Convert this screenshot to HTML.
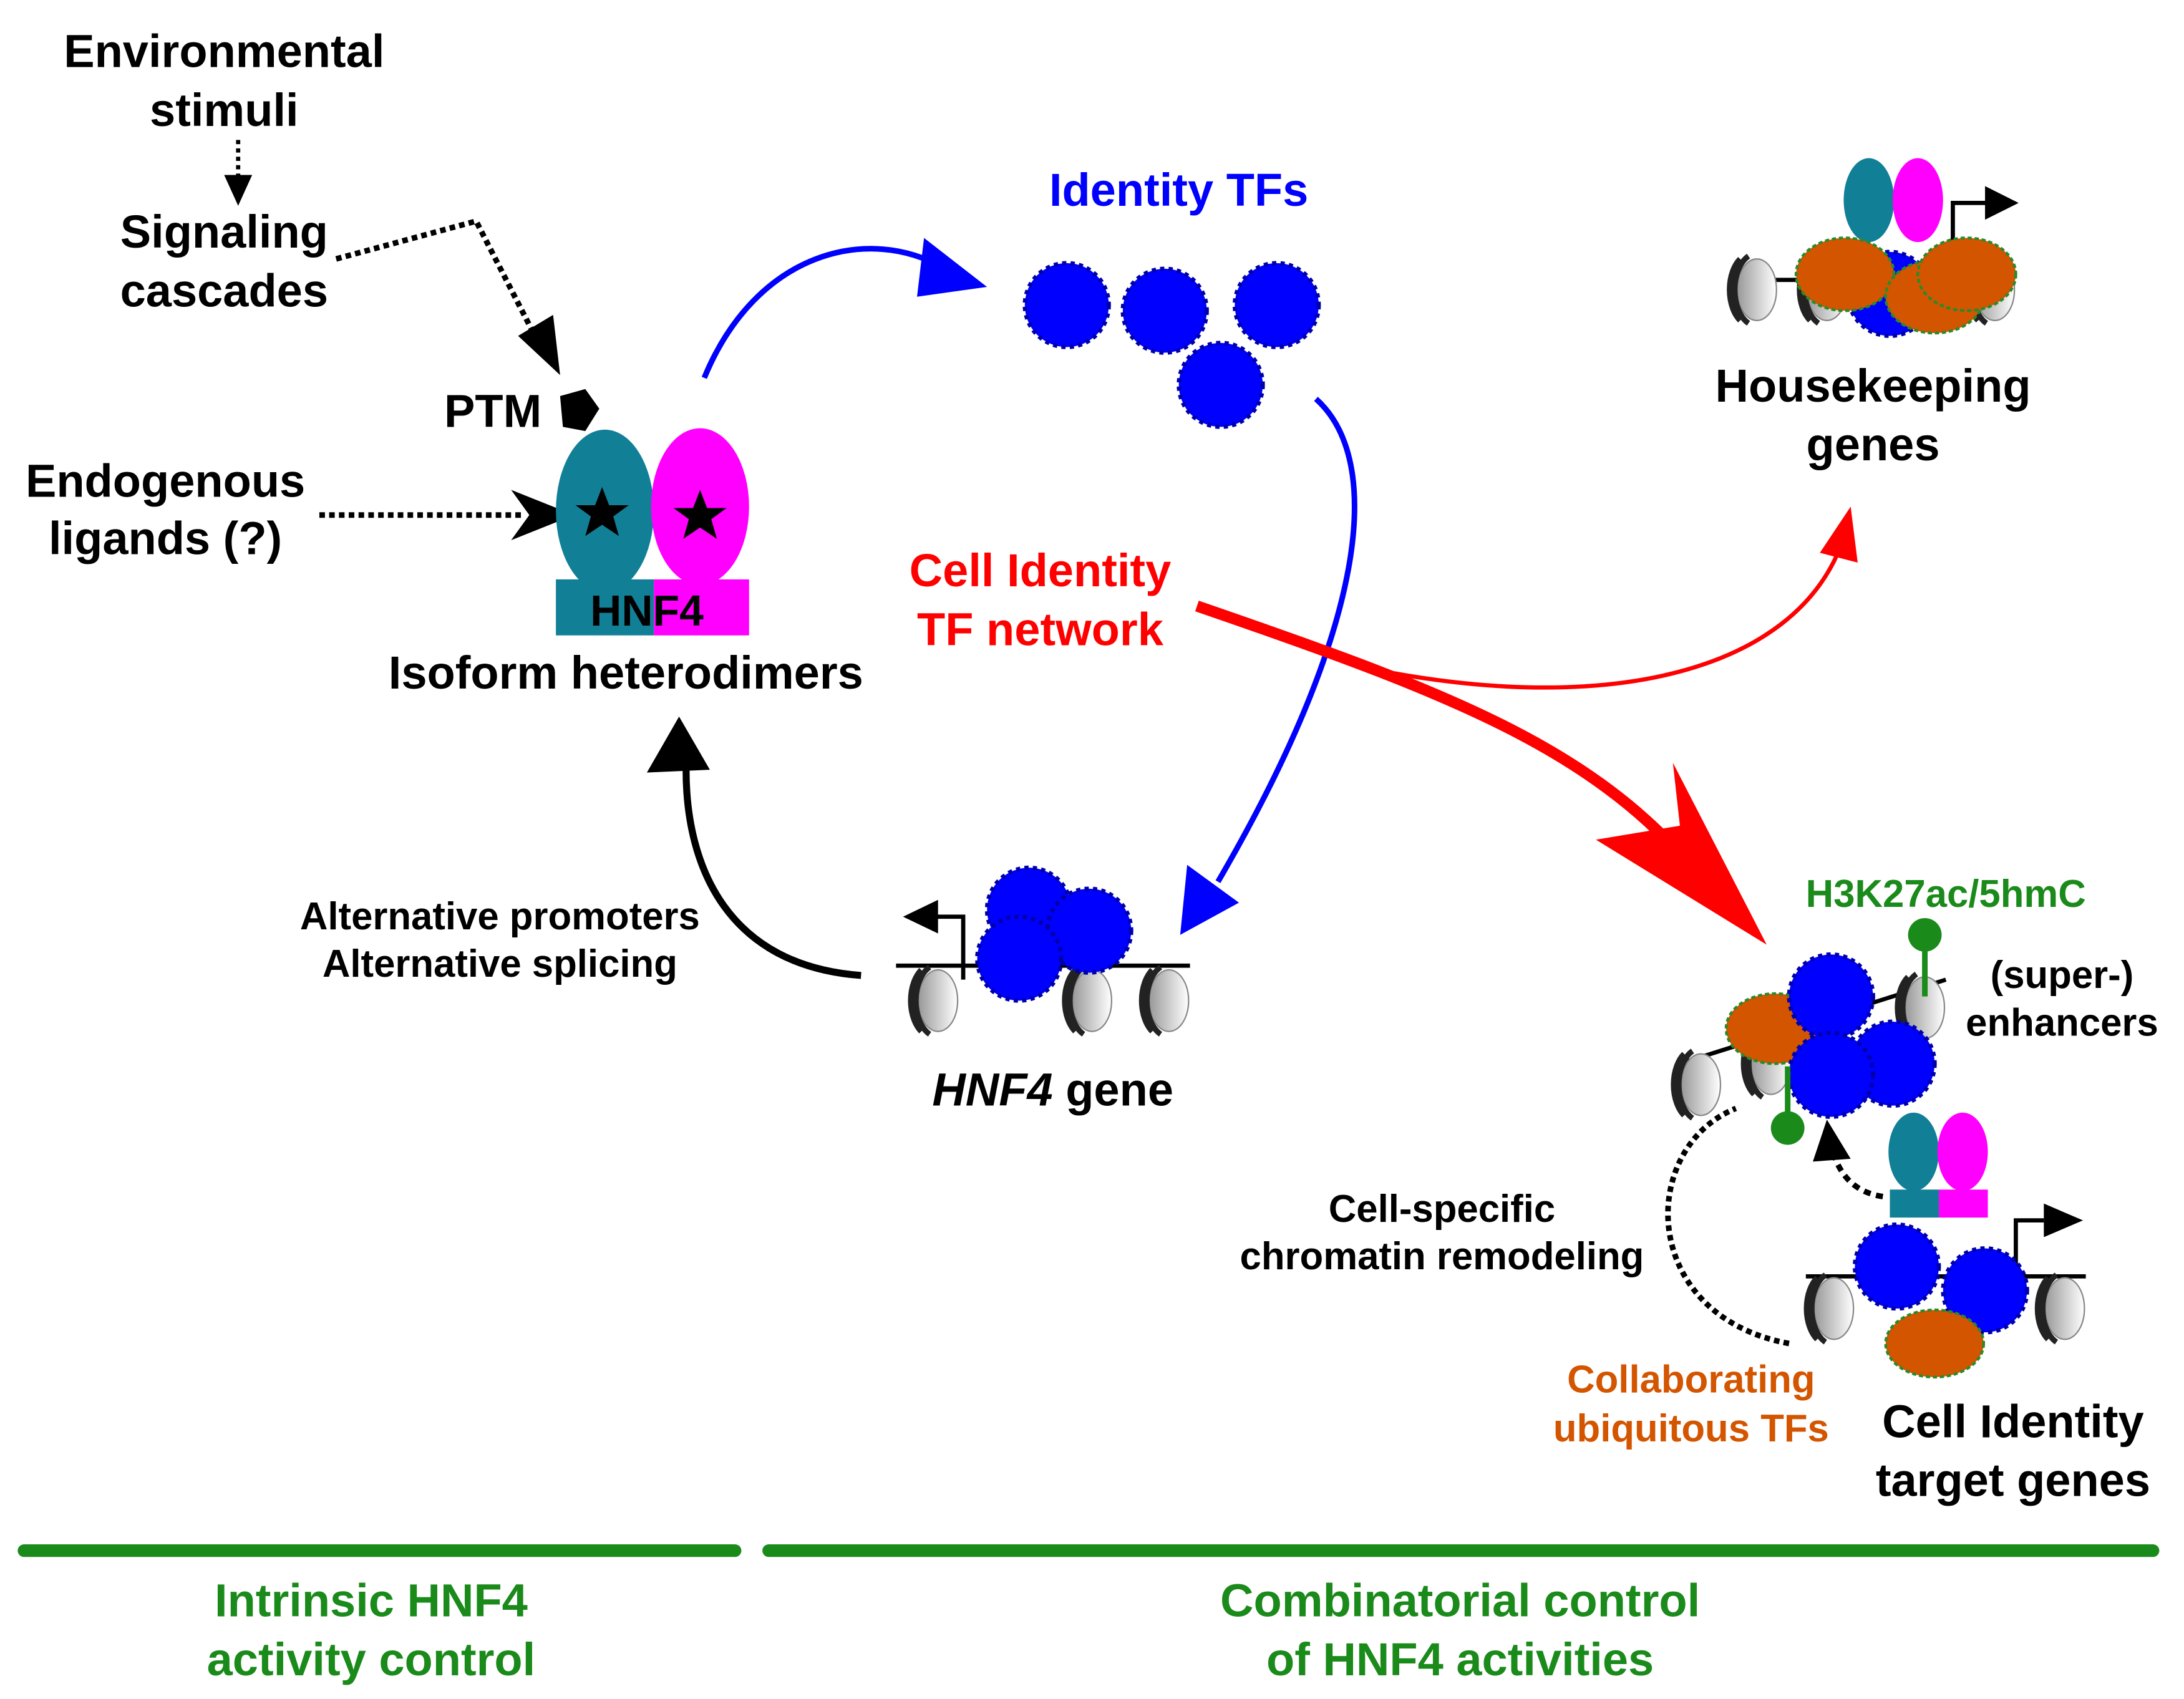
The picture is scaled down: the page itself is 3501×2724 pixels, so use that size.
<!DOCTYPE html>
<html><head><meta charset="utf-8"><style>
html,body{margin:0;padding:0;background:#fff}
svg{display:block}
text{font-family:"Liberation Sans",Arial,sans-serif;font-weight:bold}
</style></head><body>
<svg width="3501" height="2724" viewBox="0 0 1560 1214" xmlns="http://www.w3.org/2000/svg">
<defs>
<linearGradient id="ng" x1="0" x2="1" y1="0" y2="0"><stop offset="0" stop-color="#999"/><stop offset="1" stop-color="#fff"/></linearGradient>
<g id="nuc"><ellipse cx="0" cy="0" rx="14" ry="22" fill="url(#ng)" stroke="#888" stroke-width="1"/><path d="M-6,-24 A16,26 0 0 0 -6,24" fill="none" stroke="#222" stroke-width="4"/><path d="M-12,-22 A16,26 0 0 0 -12,22" fill="none" stroke="#222" stroke-width="4"/></g>
<g id="tf"><circle r="30" fill="#0000ff" stroke="#0000aa" stroke-width="3" stroke-dasharray="3 3"/></g>
</defs>
<rect width="1560" height="1214" fill="#fff"/>

<g font-size="33" text-anchor="middle" fill="#000">
<text x="160" y="48">Environmental</text>
<text x="160" y="90">stimuli</text>
<text x="160" y="177">Signaling</text>
<text x="160" y="219">cascades</text>
<text x="118" y="355">Endogenous</text>
<text x="118" y="396">ligands (?)</text>
<text x="352" y="305">PTM</text>
<text x="447" y="492">Isoform heterodimers</text>
</g>
<path d="M170,100 L170,128" stroke="#000" stroke-width="3" stroke-dasharray="3 3" fill="none"/>
<path d="M160,125 L170,147 L180,125z" fill="#000"/>
<path d="M240,185 L340,158 L382,240" stroke="#000" stroke-width="4" stroke-dasharray="4 3" fill="none"/>
<path d="M370,240 L400,268 L395,225z" fill="#000"/>
<path d="M228,368 L375,368" stroke="#000" stroke-width="4" stroke-dasharray="4 3" fill="none"/>
<path d="M365,350 L410,368 L365,386 L378,368z" fill="#000"/>
<path d="M400,283 L418,278 L428,292 L418,308 L402,305z" fill="#000"/>
<ellipse cx="432" cy="365" rx="35" ry="58" fill="#117f96"/>
<ellipse cx="500" cy="362" rx="35" ry="56" fill="#ff00ff"/>
<rect x="397" y="414" width="70" height="40" fill="#117f96"/>
<rect x="467" y="414" width="68" height="40" fill="#ff00ff"/>
<text x="462" y="447" font-size="31" text-anchor="middle">HNF4</text>
<path d="M430,348 l5,13 14,0 -11,8 4,14 -12,-8 -12,8 4,-14 -11,-8 14,0z" fill="#000"/>
<path d="M500,350 l5,13 14,0 -11,8 4,14 -12,-8 -12,8 4,-14 -11,-8 14,0z" fill="#000"/>

<path d="M503,270 C540,180 620,160 675,192" stroke="#0000ff" stroke-width="4" fill="none"/>
<path d="M660,170 L705,205 L655,212z" fill="#0000ff"/>
<text x="842" y="147" font-size="33" fill="#0000ff" text-anchor="middle">Identity TFs</text>
<use href="#tf" x="762" y="218"/><use href="#tf" x="832" y="222"/><use href="#tf" x="912" y="218"/><use href="#tf" x="872" y="275"/>
<path d="M940,285 C990,330 975,450 870,630" stroke="#0000ff" stroke-width="4" fill="none"/>
<path d="M848,618 L843,668 L885,645z" fill="#0000ff"/>

<text x="743" y="419" font-size="33" fill="#ff0000" text-anchor="middle">Cell Identity</text>
<text x="743" y="461" font-size="33" fill="#ff0000" text-anchor="middle">TF network</text>
<path d="M990,480 C1150,510 1280,480 1315,390" stroke="#ff0000" stroke-width="3" fill="none"/>
<path d="M1300,395 L1322,362 L1327,402z" fill="#ff0000"/>
<path d="M855,433 C1050,500 1150,540 1225,640" stroke="#ff0000" stroke-width="8" fill="none"/>
<path d="M1140,600 L1200,590 L1195,545 L1262,675z" fill="#ff0000"/>

<line x1="1240" y1="200" x2="1430" y2="200" stroke="#000" stroke-width="3"/>
<use href="#nuc" x="1255" y="207"/><use href="#nuc" x="1305" y="207"/><use href="#nuc" x="1425" y="207"/>
<ellipse cx="1335" cy="143" rx="18" ry="30" fill="#117f96"/>
<ellipse cx="1370" cy="143" rx="18" ry="30" fill="#ff00ff"/>
<path d="M1395,175 L1395,145 L1420,145" stroke="#000" stroke-width="3" fill="none"/>
<path d="M1418,133 L1442,145 L1418,157z" fill="#000"/>
<use href="#tf" x="1350" y="210"/>
<ellipse cx="1318" cy="196" rx="35" ry="26" fill="#d45500" stroke="#2a8a2a" stroke-width="2" stroke-dasharray="3 2"/>
<ellipse cx="1382" cy="212" rx="35" ry="26" fill="#d45500" stroke="#2a8a2a" stroke-width="2" stroke-dasharray="3 2"/>
<ellipse cx="1405" cy="196" rx="35" ry="26" fill="#d45500" stroke="#2a8a2a" stroke-width="2" stroke-dasharray="3 2"/>
<text x="1338" y="287" font-size="33" text-anchor="middle">Housekeeping</text>
<text x="1338" y="329" font-size="33" text-anchor="middle">genes</text>

<line x1="640" y1="690" x2="850" y2="690" stroke="#000" stroke-width="3"/>
<use href="#nuc" x="670" y="715"/><use href="#nuc" x="780" y="715"/><use href="#nuc" x="835" y="715"/>
<path d="M688,700 L688,655 L668,655" stroke="#000" stroke-width="3" fill="none"/>
<path d="M670,643 L645,655 L670,667z" fill="#000"/>
<use href="#tf" x="735" y="650"/><use href="#tf" x="778" y="665"/><use href="#tf" x="728" y="685"/>
<text x="752" y="790" font-size="33" text-anchor="middle"><tspan font-style="italic">HNF4</tspan> gene</text>
<path d="M615,697 C520,690 490,620 490,550" stroke="#000" stroke-width="5" fill="none"/>
<path d="M462,552 L485,512 L507,550z" fill="#000"/>
<text x="357" y="664" font-size="27.5" text-anchor="middle">Alternative promoters</text>
<text x="357" y="698" font-size="27.5" text-anchor="middle">Alternative splicing</text>

<text x="1390" y="648" font-size="27.5" fill="#1a8a1a" text-anchor="middle">H3K27ac/5hmC</text>
<text x="1473" y="706" font-size="27.5" text-anchor="middle">(super-)</text>
<text x="1473" y="740" font-size="27.5" text-anchor="middle">enhancers</text>
<line x1="1200" y1="760" x2="1390" y2="700" stroke="#000" stroke-width="3"/>
<use href="#nuc" x="1215" y="775"/><use href="#nuc" x="1265" y="760"/><use href="#nuc" x="1375" y="720"/>
<line x1="1375" y1="670" x2="1375" y2="712" stroke="#1a8a1a" stroke-width="4"/>
<circle cx="1375" cy="668" r="12" fill="#1a8a1a"/>
<ellipse cx="1268" cy="735" rx="35" ry="25" fill="#d45500" stroke="#2a8a2a" stroke-width="2" stroke-dasharray="3 2"/>
<use href="#tf" x="1308" y="712"/><use href="#tf" x="1352" y="760"/><use href="#tf" x="1308" y="768"/>
<line x1="1277" y1="762" x2="1277" y2="802" stroke="#1a8a1a" stroke-width="4"/>
<circle cx="1277" cy="806" r="12" fill="#1a8a1a"/>
<path d="M1278,960 C1170,940 1170,820 1240,792" stroke="#000" stroke-width="4" stroke-dasharray="4 3" fill="none"/>
<ellipse cx="1367" cy="823" rx="18" ry="28" fill="#117f96"/>
<ellipse cx="1402" cy="823" rx="18" ry="28" fill="#ff00ff"/>
<rect x="1350" y="850" width="35" height="20" fill="#117f96"/><rect x="1385" y="850" width="35" height="20" fill="#ff00ff"/>
<path d="M1345,855 C1325,852 1315,840 1310,825" stroke="#000" stroke-width="4" stroke-dasharray="5 4" fill="none"/>
<path d="M1295,830 L1305,800 L1322,828z" fill="#000"/>
<text x="1030" y="873" font-size="27.5" text-anchor="middle">Cell-specific</text>
<text x="1030" y="907" font-size="27.5" text-anchor="middle">chromatin remodeling</text>
<line x1="1290" y1="912" x2="1490" y2="912" stroke="#000" stroke-width="3"/>
<use href="#nuc" x="1310" y="935"/><use href="#nuc" x="1475" y="935"/>
<path d="M1440,910 L1440,872 L1460,872" stroke="#000" stroke-width="3" fill="none"/>
<path d="M1460,860 L1488,872 L1460,884z" fill="#000"/>
<use href="#tf" x="1355" y="905"/><use href="#tf" x="1418" y="922"/>
<ellipse cx="1382" cy="960" rx="35" ry="24" fill="#d45500" stroke="#2a8a2a" stroke-width="2" stroke-dasharray="3 2"/>
<text x="1208" y="995" font-size="27.5" fill="#d45500" text-anchor="middle">Collaborating</text>
<text x="1208" y="1030" font-size="27.5" fill="#d45500" text-anchor="middle">ubiquitous TFs</text>
<text x="1438" y="1027" font-size="33" text-anchor="middle">Cell Identity</text>
<text x="1438" y="1069" font-size="33" text-anchor="middle">target genes</text>

<line x1="17" y1="1108" x2="525" y2="1108" stroke="#1a8a1a" stroke-width="9" stroke-linecap="round"/>
<line x1="549" y1="1108" x2="1538" y2="1108" stroke="#1a8a1a" stroke-width="9" stroke-linecap="round"/>
<g font-size="33" fill="#1a8a1a" text-anchor="middle">
<text x="265" y="1155">Intrinsic HNF4</text>
<text x="265" y="1197">activity control</text>
<text x="1043" y="1155">Combinatorial control</text>
<text x="1043" y="1197">of HNF4 activities</text>
</g>
</svg>
</body></html>
